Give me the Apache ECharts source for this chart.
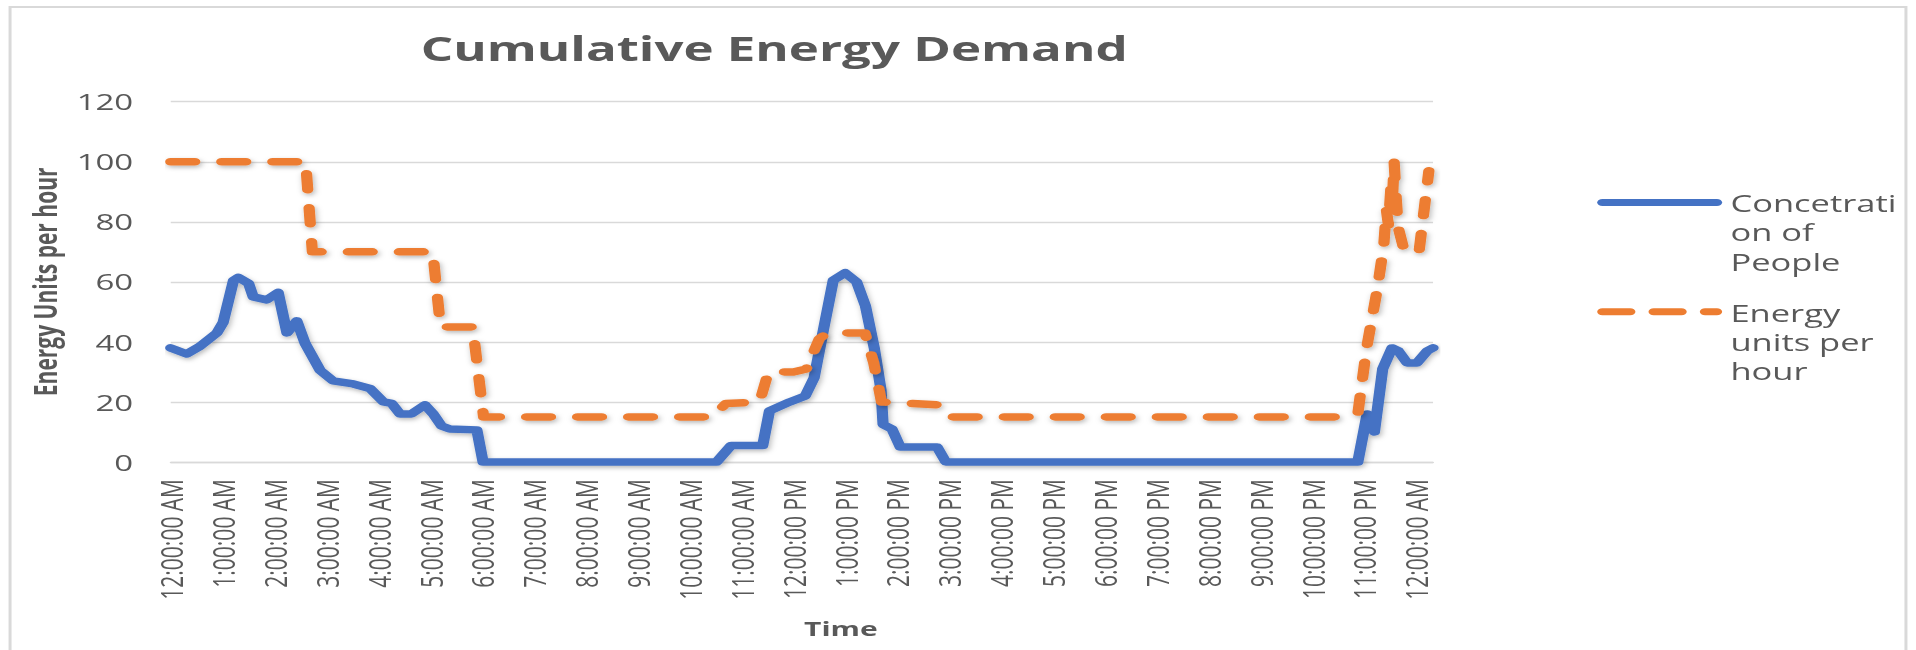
<!DOCTYPE html>
<html>
<head>
<meta charset="utf-8">
<title>Cumulative Energy Demand</title>
<script src="https://cdn.jsdelivr.net/npm/echarts@6/dist/echarts.min.js"></script>
<style>
  html, body { margin: 0; padding: 0; background: #ffffff; overflow: hidden; }
  #wrap { width: 1916px; height: 650px; overflow: hidden; }
  /* the chart is laid out narrower and widened horizontally, like the original sheet export */
  #chart { width: 1277px; height: 650px; transform: scaleX(1.5004); transform-origin: 0 0; }
</style>
</head>
<body>
<div id="wrap"><div id="chart"></div></div>
<script>
// Hour positions of the x-axis labels and their text
const tickHours = [0, 1, 2, 3, 4, 5, 6, 7, 8, 9, 10, 11, 12, 13, 14, 15, 16, 17, 18, 19, 20, 21, 22, 23, 24];
const tickLabels = [
  '12:00:00 AM', '1:00:00 AM', '2:00:00 AM', '3:00:00 AM', '4:00:00 AM', '5:00:00 AM',
  '6:00:00 AM', '7:00:00 AM', '8:00:00 AM', '9:00:00 AM', '10:00:00 AM', '11:00:00 AM',
  '12:00:00 PM', '1:00:00 PM', '2:00:00 PM', '3:00:00 PM', '4:00:00 PM', '5:00:00 PM',
  '6:00:00 PM', '7:00:00 PM', '8:00:00 PM', '9:00:00 PM', '10:00:00 PM', '11:00:00 PM',
  '12:00:00 AM'
];

// Concetration of People (time in hours since midnight)
const peopleHours = [
  0.00, 0.31, 0.56, 0.89, 1.01, 1.21, 1.30, 1.50, 1.59, 1.85, 2.07, 2.24, 2.43, 2.59, 2.88,
  3.13, 3.52, 3.84, 4.10, 4.26, 4.42, 4.64, 4.90, 5.06, 5.22, 5.38, 5.90, 6.02,
  10.52, 10.80, 11.41, 11.54, 11.93, 12.23, 12.40, 12.58, 12.77, 13.00, 13.22, 13.39, 13.56,
  13.69, 13.73, 13.90, 14.06, 14.77, 14.94,
  22.88, 23.06, 23.20, 23.36, 23.54, 23.66, 23.83, 24.02, 24.22, 24.33
];
const peopleValues = [
  38, 36, 38.5, 43, 46.5, 60.5, 61.5, 59.5, 55, 54, 56.5, 43, 47, 39.5, 30.5,
  27, 26, 24.5, 20, 19.5, 16, 16, 19, 16, 12, 11, 10.7, 0,
  0, 5.5, 5.5, 17, 20, 22, 28, 44, 60.5, 63, 60, 52, 38,
  24, 12.5, 11, 5, 5, 0,
  0, 16, 10, 31, 38, 37, 33, 33, 37, 38
];

// Energy units per hour (time in hours since midnight)
const energyHours = [
  0.00, 2.60, 2.73, 5.05, 5.20, 5.82, 6.03,
  10.45, 10.70, 11.35, 11.52, 12.00, 12.25, 12.50, 12.65, 13.38, 13.55, 13.70, 14.30, 14.85, 15.07,
  22.62, 22.88, 23.05, 23.25, 23.38, 23.43, 23.47, 23.52, 23.55, 23.58, 23.62, 23.66, 23.78,
  24.06, 24.25
];
const energyValues = [
  100, 100, 70, 70, 45, 45, 15,
  15, 19.5, 20, 30, 30, 31, 41, 43, 43, 33, 20, 19.5, 19, 15,
  15, 16, 38, 57, 72, 84, 79, 92, 88, 100, 88, 78, 70,
  70, 97
];

const seriesNames = ['Concetration of People', 'Energy units per hour'];
const legendTexts = ['Concetrati\non of\nPeople', 'Energy\nunits per\nhour'];

const BLUE = '#4472C4';
const ORANGE = '#ED7D31';
const TEXT = '#595959';
const GRID = '#d9d9d9';
const FONT = '"Open Sans", "Noto Sans", sans-serif';

const pair = (xs, ys) => xs.map((x, i) => [x, ys[i]]);

const shadow = {
  shadowColor: 'rgba(0,0,0,0.28)',
  shadowBlur: 4,
  shadowOffsetX: 1,
  shadowOffsetY: 2
};

const chart = echarts.init(document.getElementById('chart'), null, {
  renderer: 'svg', width: 1277, height: 650
});

chart.setOption({
  animation: false,
  backgroundColor: '#ffffff',
  title: {
    text: 'Cumulative Energy Demand',
    left: 511,
    top: 26,
    textAlign: 'center',
    textStyle: { fontFamily: FONT, fontWeight: 'bold', fontSize: 34, color: TEXT }
  },
  grid: {
    left: 113.8, right: 321.9, top: 101.7, bottom: 188,
    containLabel: false,
    outerBoundsMode: 'none'
  },
  xAxis: {
    type: 'value',
    min: 0,
    max: 24.33,
    axisLine: { show: true, lineStyle: { color: GRID, width: 1.4 } },
    axisTick: { show: false },
    splitLine: { show: false },
    axisLabel: {
      customValues: tickHours,
      rotate: 90,
      margin: 17,
      color: TEXT,
      fontFamily: FONT,
      fontSize: 21,
      formatter: (v) => tickLabels[tickHours.indexOf(v)]
    },
    name: 'Time',
    nameLocation: 'middle',
    nameGap: 156,
    nameTextStyle: {
      fontFamily: FONT, fontWeight: 'bold', fontSize: 20, color: TEXT,
      padding: [0, 0, 0, 52]
    }
  },
  yAxis: {
    type: 'value',
    min: 0,
    max: 120,
    interval: 20,
    axisLine: { show: false },
    axisTick: { show: false },
    splitLine: { lineStyle: { color: GRID, width: 1.4 } },
    axisLabel: { margin: 25, color: TEXT, fontFamily: FONT, fontSize: 22 },
    name: 'Energy Units per hour',
    nameLocation: 'middle',
    nameRotate: 90,
    nameGap: 72,
    nameTextStyle: { fontFamily: FONT, fontWeight: 'bold', fontSize: 21, color: TEXT }
  },
  series: [
    {
      name: seriesNames[0],
      type: 'line',
      data: pair(peopleHours, peopleValues),
      symbol: 'none',
      showSymbol: false,
      clip: false,
      lineStyle: Object.assign({ color: BLUE, width: 7.5, cap: 'round', join: 'round' }, shadow),
      z: 3
    },
    {
      name: seriesNames[1],
      type: 'line',
      data: pair(energyHours, energyValues),
      symbol: 'none',
      showSymbol: false,
      clip: false,
      lineStyle: Object.assign({
        color: ORANGE, width: 7.5, type: [16, 18], cap: 'round', join: 'round'
      }, shadow),
      z: 4
    }
  ],
  graphic: [
    {
      type: 'rect', silent: true, z: -10,
      shape: { x: 6.7, y: 7, width: 1263.6, height: 700 },
      style: { fill: 'none', stroke: '#d9d9d9', lineWidth: 2 }
    },
    {
      type: 'line', silent: true,
      shape: { x1: 1068, y1: 202.5, x2: 1144.3, y2: 202.5 },
      style: { stroke: BLUE, lineWidth: 7, lineCap: 'round' }
    },
    {
      type: 'text', silent: true, x: 1153.3, y: 188.5,
      style: {
        text: legendTexts[0], fill: TEXT, fontFamily: FONT, fontSize: 23,
        lineHeight: 29.5, verticalAlign: 'top', align: 'left'
      }
    },
    {
      type: 'line', silent: true,
      shape: { x1: 1068, y1: 311.7, x2: 1144.3, y2: 311.7 },
      style: { stroke: ORANGE, lineWidth: 7, lineCap: 'round', lineDash: [18.5, 15.7] }
    },
    {
      type: 'text', silent: true, x: 1153.3, y: 298.5,
      style: {
        text: legendTexts[1], fill: TEXT, fontFamily: FONT, fontSize: 23,
        lineHeight: 29, verticalAlign: 'top', align: 'left'
      }
    }
  ]
});
</script>
</body>
</html>
